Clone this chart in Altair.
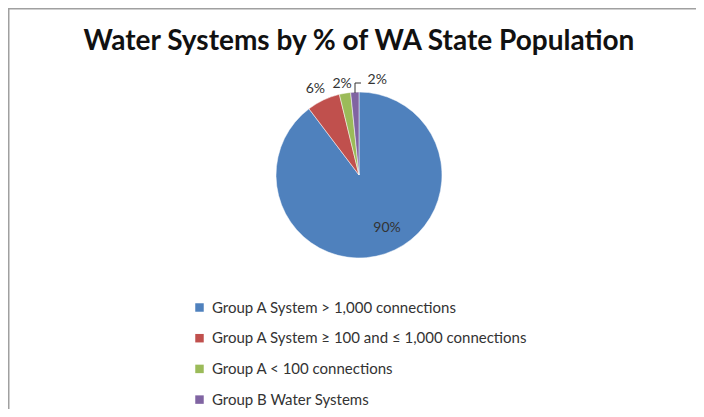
import altair as alt
import pandas as pd

categories = [
    "Group A System > 1,000 connections",
    "Group A System \u2265 100 and \u2264 1,000 connections",
    "Group A < 100 connections",
    "Group B Water Systems",
]
shares = [89.7, 6.5, 2.2, 1.6]
labels = ["90%", "6%", "2%", "2%"]
colors = ["#4F81BD", "#C0504D", "#9BBB59", "#8064A2"]
title_text = "Water Systems by % of WA State Population"

df = pd.DataFrame({
    "cat": categories,
    "share": shares,
    "label": labels,
    "idx": list(range(len(categories))),
})

CX, CY, R = 351, 167, 83
W, H = 688, 401

base = alt.Chart(df).encode(
    theta=alt.Theta("share:Q", stack=True),
    order=alt.Order("idx:Q", sort="ascending"),
    x=alt.value(CX),
    y=alt.value(CY),
)

pie = base.mark_arc(outerRadius=R, stroke="white", strokeWidth=0.5).encode(
    color=alt.Color(
        "cat:N",
        scale=alt.Scale(domain=categories, range=colors),
        sort=categories,
        legend=alt.Legend(
            title=None,
            orient="none",
            legendX=184,
            legendY=292,
            symbolType="square",
            symbolSize=72,
            symbolStrokeWidth=0,
            labelFont="Lato",
            labelFontSize=15,
            labelColor="#333333",
            rowPadding=14.7,
            padding=0,
            labelLimit=600,
            labelOffset=5,
        ),
    )
)


def label_layer(i, radius, dx=0, dy=0):
    return base.transform_calculate(
        t=f"datum.idx == {i} ? datum.label : ''"
    ).mark_text(
        radius=radius, dx=dx, dy=dy, font="Lato", fontSize=14, color="#333333"
    ).encode(text="t:N")


lab_blue = label_layer(0, 60, dx=9, dy=-4)
lab_red = label_layer(1, 97, dx=-2, dy=2)
lab_green = label_layer(2, 94, dx=-1, dy=2)
lab_purple = label_layer(3, 95, dx=23, dy=0)

lead_df = pd.DataFrame({"k": [0]})
lead_v = alt.Chart(lead_df).mark_rule(color="#333333", strokeWidth=1).encode(
    x=alt.value(347), y=alt.value(75), y2=alt.value(85)
)
lead_h = alt.Chart(lead_df).mark_rule(color="#333333", strokeWidth=1).encode(
    x=alt.value(347), x2=alt.value(353), y=alt.value(75)
)

title = alt.Chart(pd.DataFrame({"t": [title_text]})).mark_text(
    font="Lato", fontSize=28, fontWeight="bold", color="#111111", baseline="middle"
).encode(text="t:N", x=alt.value(351), y=alt.value(34))

border_l = alt.Chart(lead_df).mark_rule(color="#a0a0a0", strokeWidth=1.5).encode(
    x=alt.value(0.75), y=alt.value(0), y2=alt.value(H)
)
border_t = alt.Chart(lead_df).mark_rule(color="#a0a0a0", strokeWidth=1.5).encode(
    x=alt.value(0), x2=alt.value(W), y=alt.value(0.75)
)

chart = alt.layer(
    pie, lab_blue, lab_red, lab_green, lab_purple, lead_v, lead_h, title, border_l, border_t
).properties(
    width=W, height=H, autosize=alt.AutoSizeParams(type="none"), padding=0
).configure_view(stroke=None)

chart.save("out.html", embed_options={"renderer": "svg", "actions": False})
